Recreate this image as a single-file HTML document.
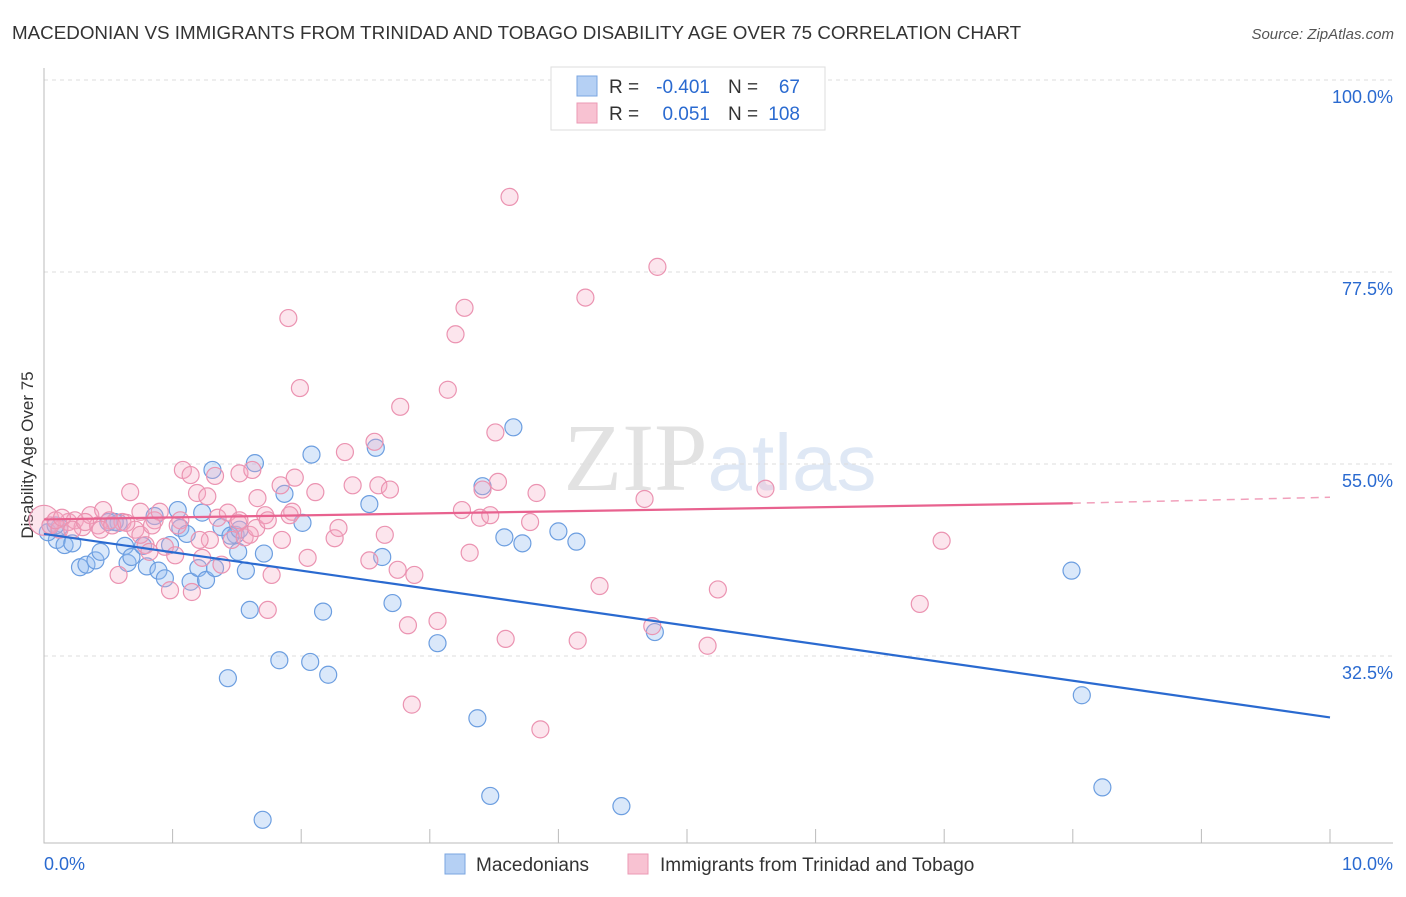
<!DOCTYPE html>
<html><head><meta charset="utf-8"><style>
body{margin:0;background:#fff;font-family:"Liberation Sans",sans-serif}
svg text{font-family:"Liberation Sans",sans-serif}
</style></head><body>
<svg width="1406" height="892" viewBox="0 0 1406 892" id="svg">
<text x="12" y="39" font-size="18.8" fill="#333">MACEDONIAN VS IMMIGRANTS FROM TRINIDAD AND TOBAGO DISABILITY AGE OVER 75 CORRELATION CHART</text>
<text x="1394" y="39" font-size="15" fill="#555" font-style="italic" text-anchor="end">Source: ZipAtlas.com</text>
<text x="720" y="490" font-size="96" text-anchor="middle" fill="#ddd" font-family="Liberation Serif" opacity="0.55"><tspan fill="#ccc" font-family="Liberation Serif">ZIP</tspan><tspan fill="#c5d6ee" font-family="Liberation Sans" font-size="80">atlas</tspan></text>
<text transform="translate(33,455) rotate(-90)" font-size="17" fill="#333" text-anchor="middle">Disability Age Over 75</text>
<g id="grid"></g><g id="pts"></g><g id="lines"></g>
<g>
<rect x="551" y="67" width="274" height="63" fill="#fff" stroke="#ddd"/>
<rect x="577" y="76" width="20" height="20" fill="#b5d0f4" stroke="#7aa6e0"/>
<rect x="577" y="103" width="20" height="20" fill="#f8c2d2" stroke="#eb9ab4"/>
<text x="609" y="93" font-size="19" fill="#333">R =</text>
<text x="710" y="93" font-size="19" fill="#2a6ad0" text-anchor="end">-0.401</text>
<text x="728" y="93" font-size="19" fill="#333">N =</text>
<text x="800" y="93" font-size="19" fill="#2a6ad0" text-anchor="end">67</text>
<text x="609" y="120" font-size="19" fill="#333">R =</text>
<text x="710" y="120" font-size="19" fill="#2a6ad0" text-anchor="end">0.051</text>
<text x="728" y="120" font-size="19" fill="#333">N =</text>
<text x="800" y="120" font-size="19" fill="#2a6ad0" text-anchor="end">108</text>
</g>
<g>
<rect x="445" y="854" width="20" height="20" fill="#b5d0f4" stroke="#7aa6e0"/>
<text x="476" y="871" font-size="19" fill="#333">Macedonians</text>
<rect x="628" y="854" width="20" height="20" fill="#f8c2d2" stroke="#eb9ab4"/>
<text x="660" y="871" font-size="19" fill="#333">Immigrants from Trinidad and Tobago</text>
</g>
<text x="44" y="870" font-size="18" fill="#2a6ad0">0.0%</text>
<text x="1393" y="870" font-size="18" fill="#2a6ad0" text-anchor="end">10.0%</text>
</svg>
<script>
const yTicks=[100,77.5,55,32.5];
const yTickLabels=["100.0%","77.5%","55.0%","32.5%"];
const blueX=[.10,.16,.22,.12,.28,.33,.40,.44,.50,.58,.63,.65,.68,.77,.80,.86,.89,.94,.98,1.04,1.06,1.11,1.14,1.20,1.23,1.26,1.31,1.33,1.38,1.43,1.49,1.51,1.57,1.60,1.64,1.70,1.71,1.83,1.87,2.01,2.07,2.08,2.17,2.21,2.53,2.58,2.63,2.71,3.06,3.37,3.41,3.47,3.58,3.65,3.72,4.00,4.14,4.49,4.75,7.99,8.07,8.23,.03,.09,.55,1.45,1.52];
const blueY=[46.1,45.5,45.7,47.6,42.9,43.2,43.7,44.7,48.2,48.1,45.4,43.4,44.1,45.4,43.0,48.9,42.5,41.6,45.5,49.6,47.5,46.8,41.2,42.8,49.3,41.4,54.3,42.8,47.6,29.9,46.7,44.7,42.5,37.9,55.1,13.3,44.5,32.0,51.5,48.1,31.8,56.1,37.7,30.3,50.3,56.9,44.1,38.7,34.0,25.2,52.4,16.1,46.4,59.3,45.7,47.1,45.9,14.9,35.3,42.5,27.9,17.1,47.0,47.8,48.2,46.6,47.3];
const pinkX=[0,.05,.12,.19,.24,.30,.36,.42,.46,.51,.58,.61,.67,.71,.75,.79,.82,.86,.90,.94,.98,1.02,1.06,1.08,1.14,1.15,1.19,1.23,1.27,1.29,1.33,1.35,1.38,1.43,1.46,1.51,1.52,1.56,1.60,1.62,1.65,1.66,1.72,1.74,1.77,1.84,1.85,1.90,1.93,1.95,1.99,2.05,2.11,2.26,2.29,2.34,2.40,2.53,2.57,2.60,2.65,2.69,2.75,2.77,2.83,2.86,2.88,3.06,3.14,3.20,3.25,3.27,3.31,3.39,3.41,3.47,3.51,3.53,3.59,3.62,3.78,3.83,3.86,4.15,4.21,4.32,4.67,4.73,4.77,5.16,5.24,5.61,6.81,6.98,.09,.14,.22,.32,.44,.53,.64,.75,.84,1.04,1.21,1.52,1.74,1.91];
const pinkY=[48.4,47.8,47.3,48.2,48.4,47.6,49.0,47.8,49.6,48.4,42.0,48.2,51.7,47.3,49.4,45.5,44.7,48.4,49.4,45.3,40.2,44.3,48.4,54.3,53.7,40.0,51.6,44.0,51.2,46.1,53.6,48.7,43.2,49.3,46.1,48.1,53.9,46.4,46.7,54.3,47.5,51.0,49.0,37.9,42.0,52.5,46.1,72.1,49.4,53.4,63.9,44.0,51.7,46.3,47.5,56.4,52.5,43.7,57.6,52.5,46.7,52.0,42.6,61.7,36.1,26.8,42.0,36.6,63.7,70.2,49.6,73.3,44.6,48.7,52.0,49.0,58.7,52.9,34.5,86.3,48.2,51.6,23.9,34.3,74.5,40.7,50.9,36.0,78.1,33.7,40.3,52.1,38.6,46.0,48.4,48.7,47.3,48.2,47.3,47.8,48.1,46.7,47.8,47.8,46.1,48.4,48.4,49.0];
const blueTrend=[[0,46.8],[10,25.3]];
const pinkTrend=[[0,48.5],[8,50.4],[10,51.1]];
const X=v=>44+v*128.6, Y=v=>80+(100-v)*8.533;
const NS="http://www.w3.org/2000/svg";
function mk(t,a,p){const e=document.createElementNS(NS,t);for(const k in a)e.setAttribute(k,a[k]);p.appendChild(e);return e;}
const g=document.getElementById('grid');
yTicks.forEach((t,i)=>{
 const l=mk('line',{x1:44,x2:1393,y1:Y(t),y2:Y(t),stroke:'#ddd','stroke-dasharray':'4,4'},g);
 
 
 const tx=mk('text',{x:1393,y:Y(t)+23,'font-size':18,fill:'#2a6ad0','text-anchor':'end'},g);
 tx.textContent=yTickLabels[i];
 
 
});
const ax=mk('path',{d:'M44,68V843H1393',stroke:'#bbb',fill:'none'},g);


for(let i=0;i<=10;i++){const t=mk('line',{x1:X(i),x2:X(i),y1:829,y2:843,stroke:'#bbb'},g);
 
 }
const p=document.getElementById('pts');
blueX.forEach((x,i)=>{const c=mk('circle',{cx:X(x),cy:Y(blueY[i]),r:8.5,fill:'rgba(150,190,240,0.35)',stroke:'#6c9ee0','stroke-width':1.2},p);
 
 });
pinkX.forEach((x,i)=>{const c=mk('circle',{cx:X(x),cy:Y(pinkY[i]),r:i==0?15:8.5,fill:'rgba(245,170,195,0.3)',stroke:'#eb93b1','stroke-width':1.2},p);
 
 });
const L=document.getElementById('lines');
const b=mk('line',{x1:X(blueTrend[0][0]),y1:Y(blueTrend[0][1]),x2:X(blueTrend[1][0]),y2:Y(blueTrend[1][1]),stroke:'#2a6ad0','stroke-width':2.2},L);


const pk=mk('line',{x1:X(pinkTrend[0][0]),y1:Y(pinkTrend[0][1]),x2:X(pinkTrend[1][0]),y2:Y(pinkTrend[1][1]),stroke:'#e8628f','stroke-width':2.2},L);


const pd=mk('line',{x1:X(pinkTrend[1][0]),y1:Y(pinkTrend[1][1]),x2:X(pinkTrend[2][0]),y2:Y(pinkTrend[2][1]),stroke:'#e8628f','stroke-width':1.5,'stroke-dasharray':'8,6',opacity:.6},L);


</script>
</body></html>
